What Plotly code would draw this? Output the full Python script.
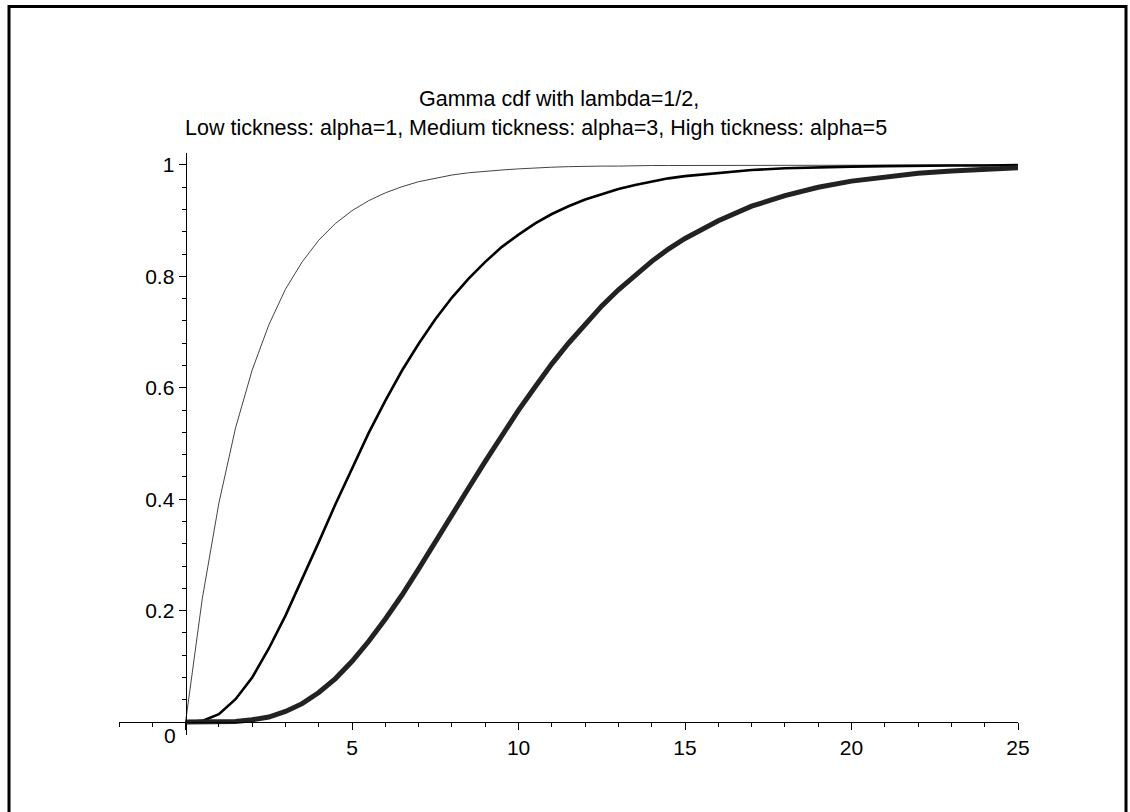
import plotly.graph_objects as go

# ---- data ----
x_vals = [0, 0.5, 1, 1.5, 2, 2.5, 3, 3.5, 4, 4.5, 5, 5.5, 6, 6.5, 7, 7.5, 8, 8.5,
          9, 9.5, 10, 10.5, 11, 11.5, 12, 12.5, 13, 13.5, 14, 14.5, 15,
          16, 17, 18, 19, 20, 21, 22, 23, 24, 25]

cdf_alpha1 = [0.000, 0.221, 0.393, 0.528, 0.632, 0.713, 0.777, 0.826, 0.865, 0.895,
              0.918, 0.936, 0.950, 0.961, 0.970, 0.976, 0.982, 0.986, 0.989, 0.991,
              0.993, 0.995, 0.996, 0.997, 0.998, 0.998, 0.998, 0.999, 0.999, 0.999,
              0.999, 1.000, 1.000, 1.000, 1.000, 1.000, 1.000, 1.000, 1.000, 1.000, 1.000]

cdf_alpha3 = [0.000, 0.002, 0.014, 0.041, 0.080, 0.132, 0.191, 0.256, 0.323, 0.391,
              0.456, 0.519, 0.577, 0.631, 0.679, 0.723, 0.762, 0.796, 0.826, 0.853,
              0.875, 0.895, 0.912, 0.926, 0.938, 0.948, 0.957, 0.964, 0.970, 0.976,
              0.980, 0.986, 0.991, 0.994, 0.996, 0.997, 0.998, 0.999, 0.999, 0.999, 1.000]

cdf_alpha5 = [0.000, 0.000, 0.000, 0.001, 0.004, 0.009, 0.019, 0.033, 0.053, 0.078,
              0.109, 0.145, 0.185, 0.228, 0.275, 0.322, 0.371, 0.420, 0.468, 0.515,
              0.560, 0.602, 0.643, 0.680, 0.715, 0.747, 0.776, 0.803, 0.827, 0.849,
              0.868, 0.900, 0.926, 0.945, 0.960, 0.971, 0.979, 0.985, 0.989, 0.992, 0.995]

x_tick_vals = [0, 5, 10, 15, 20, 25]
x_tick_text = ["", "5", "10", "15", "20", "25"]
y_tick_vals = [0.2, 0.4, 0.6, 0.8, 1.0]
y_tick_text = ["0.2", "0.4", "0.6", "0.8", "1"]

title_line1 = "Gamma cdf with lambda=1/2,"
title_line2 = "Low tickness: alpha=1, Medium tickness: alpha=3, High tickness: alpha=5"

# ---- layout geometry (pixels) ----
W, H = 1130, 812
L, R, T, B = 119, 112, 153, 77
PW, PH = W - L - R, H - T - B
X_RANGE = [-2, 25]
Y_RANGE = [-0.0233, 1.0215]

def px_x(p):
    return (p - L) / PW

def px_y(p):
    return (H - B - p) / PH

FONT = "Liberation Sans, Arial, sans-serif"
TICK_SIZE = 21

fig = go.Figure()
fig.add_trace(go.Scatter(x=x_vals, y=cdf_alpha1, mode="lines",
                         line=dict(color="#444444", width=1), hoverinfo="skip"))
fig.add_trace(go.Scatter(x=x_vals, y=cdf_alpha3, mode="lines",
                         line=dict(color="#000000", width=2.6), hoverinfo="skip"))
fig.add_trace(go.Scatter(x=x_vals, y=cdf_alpha5, mode="lines",
                         line=dict(color="#222222", width=5), hoverinfo="skip"))

x_zero_pos = (0 - Y_RANGE[0]) / (Y_RANGE[1] - Y_RANGE[0])
y_zero_pos = (0 - X_RANGE[0]) / (X_RANGE[1] - X_RANGE[0])

fig.update_layout(
    width=W, height=H, autosize=False,
    margin=dict(l=L, r=R, t=T, b=B),
    paper_bgcolor="white", plot_bgcolor="white",
    showlegend=False,
    font=dict(family=FONT, size=TICK_SIZE, color="black"),
    xaxis=dict(range=X_RANGE, anchor="free", position=x_zero_pos,
               showgrid=False, zeroline=False, showline=True,
               linecolor="black", linewidth=1,
               tickmode="array", tickvals=x_tick_vals, ticktext=x_tick_text,
               ticks="outside", ticklen=7, tickwidth=1, tickcolor="black",
               minor=dict(tickmode="linear", tick0=0, dtick=1, ticks="outside",
                          ticklen=4, tickwidth=1, tickcolor="black", showgrid=False),
               tickfont=dict(family=FONT, size=TICK_SIZE, color="black")),
    yaxis=dict(range=Y_RANGE, anchor="free", position=y_zero_pos,
               showgrid=False, zeroline=False, showline=True,
               linecolor="black", linewidth=1,
               tickmode="array", tickvals=y_tick_vals, ticktext=y_tick_text,
               ticks="outside", ticklen=7, tickwidth=1, tickcolor="black",
               minor=dict(tickmode="linear", tick0=0, dtick=0.04, ticks="outside",
                          ticklen=4, tickwidth=1, tickcolor="black", showgrid=False),
               tickfont=dict(family=FONT, size=TICK_SIZE, color="black")),
)

# origin label
fig.add_annotation(x=0, y=0, xref="x", yref="y", text="0", showarrow=False,
                   xshift=-16, yshift=-13, xanchor="center", yanchor="middle",
                   font=dict(family=FONT, size=TICK_SIZE, color="black"))

# two-line title
fig.add_annotation(x=px_x(417), y=px_y(98.5), xref="paper", yref="paper",
                   text=title_line1, showarrow=False, xanchor="left", yanchor="middle",
                   font=dict(family=FONT, size=21.5, color="black"))
fig.add_annotation(x=px_x(183), y=px_y(128.5), xref="paper", yref="paper",
                   text=title_line2, showarrow=False, xanchor="left", yanchor="middle",
                   font=dict(family=FONT, size=21.5, color="black"))

# outer frame
fig.add_shape(type="rect", xref="paper", yref="paper",
              x0=px_x(9), x1=px_x(1126), y0=px_y(830), y1=px_y(6.5),
              line=dict(color="black", width=3), fillcolor="rgba(0,0,0,0)",
              layer="above")

fig.write_html("out.html",
               config={"displayModeBar": False, "staticPlot": True},
               post_script="document.body.style.margin='0';document.body.style.padding='0';")
